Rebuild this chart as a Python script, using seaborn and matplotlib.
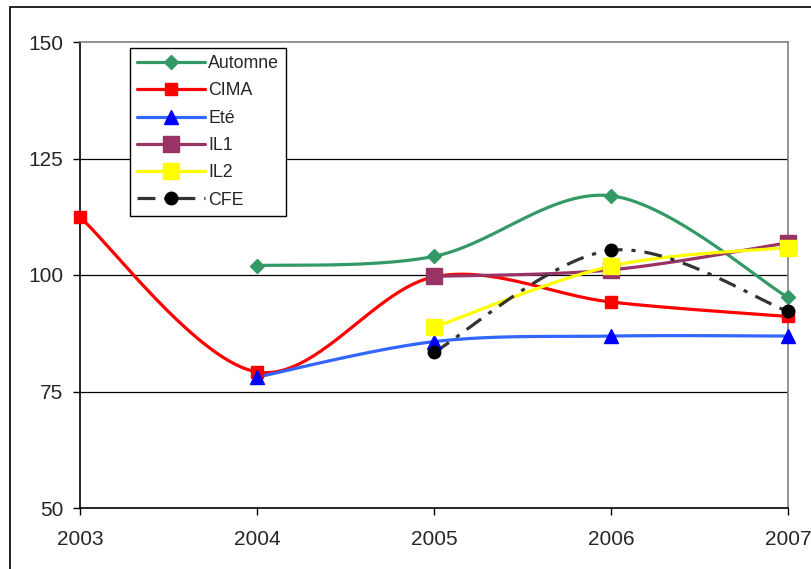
import numpy as np
import pandas as pd
import matplotlib
matplotlib.use('Agg')
import matplotlib.pyplot as plt
from matplotlib.lines import Line2D
from matplotlib.patches import Rectangle
import seaborn as sns

# --- data ---
years_all = [2003, 2004, 2005, 2006, 2007]
automne = [None, 102.0, 104.0, 117.0, 95.2]
cima = [112.4, 79.2, 99.6, 94.2, 91.1]
ete = [None, 78.1, 85.7, 86.9, 86.9]
il1 = [None, None, 99.7, 101.1, 106.9]
il2 = [None, None, 88.8, 101.9, 105.9]
cfe = [None, None, 83.4, 105.3, 92.2]

series_names = ['Automne', 'CIMA', 'Eté', 'IL1', 'IL2', 'CFE']
series_vals = [automne, cima, ete, il1, il2, cfe]

styles = {
    'Automne': dict(color='#339966', mfc='#339966', marker='D', ms=7, ls='-'),
    'CIMA':    dict(color='#FF0000', mfc='#FF0000', marker='s', ms=8.5, ls='-'),
    'Eté':     dict(color='#3366FF', mfc='#0000FF', marker='^', ms=10, ls='-'),
    'IL1':     dict(color='#993366', mfc='#993366', marker='s', ms=11, ls='-'),
    'IL2':     dict(color='#FFFF00', mfc='#FFFF00', marker='s', ms=11, ls='-'),
    'CFE':     dict(color='#333333', mfc='#000000', marker='o', ms=9,
                    ls=(0, (5.6, 2.8, 1.3, 2.8))),
}


def smooth(xs, ys, n=40):
    # Excel-style smoothed line: cubic Bezier through the points
    xs = np.asarray(xs, float); ys = np.asarray(ys, float)
    if len(xs) < 3:
        return xs, ys
    px = np.concatenate([[xs[0]], xs, [xs[-1]]])
    py = np.concatenate([[ys[0]], ys, [ys[-1]]])
    out_x, out_y = [], []
    t = np.linspace(0, 1, n)
    for i in range(1, len(px) - 2):
        p0 = np.array([px[i - 1], py[i - 1]]); p1 = np.array([px[i], py[i]])
        p2 = np.array([px[i + 1], py[i + 1]]); p3 = np.array([px[i + 2], py[i + 2]])
        c1 = p1 + (p2 - p0) / 6.0
        c2 = p2 - (p3 - p1) / 6.0
        b = ((1 - t) ** 3)[:, None] * p1 + (3 * (1 - t) ** 2 * t)[:, None] * c1 \
            + (3 * (1 - t) * t ** 2)[:, None] * c2 + (t ** 3)[:, None] * p2
        if i > 1:
            b = b[1:]
        out_x.extend(b[:, 0]); out_y.extend(b[:, 1])
    return np.array(out_x), np.array(out_y)


sns.set_style('white')
plt.rcParams['font.family'] = ['Liberation Sans', 'DejaVu Sans']

fig = plt.figure(figsize=(8.12, 5.69), dpi=100)
ax = fig.add_axes([80 / 812, 61 / 569, 708 / 812, 466 / 569])

for name, vals in zip(series_names, series_vals):
    st = styles[name]
    pts = [(x, v) for x, v in zip(years_all, vals) if v is not None]
    xs = [p[0] for p in pts]; ys = [p[1] for p in pts]
    sx, sy = smooth(xs, ys)
    curve = pd.DataFrame({'year': sx, 'value': sy})
    sns.lineplot(data=curve, x='year', y='value', sort=False, estimator=None,
                 color=st['color'], lw=2.3, linestyle=st['ls'], ax=ax, zorder=3)
    ax.plot(xs, ys, ls='none', marker=st['marker'], ms=st['ms'],
            mfc=st['mfc'], mec=st['mfc'], zorder=4, clip_on=False)

ax.set_xlim(2003, 2007)
ax.set_ylim(50, 150)
ax.set_xticks(years_all)
ax.set_xticklabels([str(y) for y in years_all])
ax.set_yticks([50, 75, 100, 125, 150])
ax.set_xlabel(''); ax.set_ylabel('')
for yv in [75, 100, 125]:
    ax.axhline(yv, color='black', lw=0.9, zorder=1)

for s in ['left', 'bottom']:
    ax.spines[s].set_color('black'); ax.spines[s].set_linewidth(1.2)
for s in ['top', 'right']:
    ax.spines[s].set_color('#808080'); ax.spines[s].set_linewidth(1.2)
ax.tick_params(axis='both', direction='out', length=5, width=1, color='black',
               labelsize=15, left=True, bottom=True)
ax.tick_params(axis='x', pad=10.5)
ax.tick_params(axis='y', pad=7)

handles = []
for name in series_names:
    st = styles[name]
    handles.append(Line2D([], [], color=st['color'], lw=2.3, linestyle=st['ls'],
                          marker=st['marker'], ms=st['ms'], mfc=st['mfc'],
                          mec=st['mfc']))
leg = ax.legend(handles, series_names, loc='upper left',
                bbox_to_anchor=(130 / 812, 1 - 48 / 569), bbox_transform=fig.transFigure,
                fontsize=12.8, frameon=True, fancybox=False, edgecolor='black',
                framealpha=1, handlelength=3.8, handletextpad=0.2,
                labelspacing=0.58, borderpad=0.4, borderaxespad=0, numpoints=1)
leg.get_frame().set_linewidth(1.0)

# outer chart frame
fig.patches.append(Rectangle((10 / 812, -0.1), 1.2, 1 - 7 / 569 + 0.1,
                             transform=fig.transFigure, fill=False,
                             edgecolor='black', lw=1.2))

fig.savefig('out.png', dpi=100)
